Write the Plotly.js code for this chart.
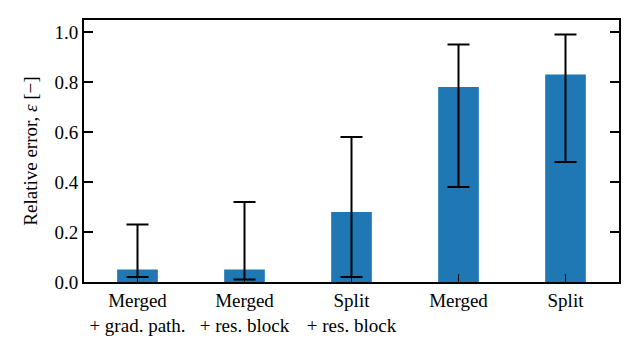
<!DOCTYPE html>
<html>
<head>
<meta charset="utf-8">
<script src="https://cdn.plot.ly/plotly-3.0.1.min.js"></script>
<style>
  html, body { margin: 0; padding: 0; background: #fff; }
  #chart { width: 639px; height: 352px; }
</style>
</head>
<body>
<div id="chart"></div>
<script>
// category labels (two-line ticks)
const categories = ['Merged<br>+ grad. path.', 'Merged<br>+ res. block', 'Split<br>+ res. block', 'Merged', 'Split'];
// mean relative error per model
const meanError = [0.05, 0.05, 0.28, 0.78, 0.83];
// range of errors (min / max) read from whiskers
const minError = [0.02, 0.01, 0.02, 0.38, 0.48];
const maxError = [0.23, 0.32, 0.58, 0.95, 0.99];

const xIdx = categories.map((c, i) => i);
const plus = meanError.map((m, i) => maxError[i] - m);
const minus = meanError.map((m, i) => m - minError[i]);

const serif = 'Liberation Serif, serif';

const trace = {
    type: 'bar',
    x: xIdx,
    y: meanError,
    width: 0.38,
    marker: { color: '#1f77b4' },
    error_y: {
        type: 'data',
        symmetric: false,
        array: plus,
        arrayminus: minus,
        color: '#000',
        thickness: 2,
        width: 11
    },
    hoverinfo: 'none'
};

const layout = {
    width: 639,
    height: 352,
    margin: { l: 84, r: 20, t: 20, b: 70 },
    paper_bgcolor: '#fff',
    plot_bgcolor: '#fff',
    showlegend: false,
    font: { family: serif, size: 19, color: '#000' },
    xaxis: {
        range: [-0.5, 4.5],
        tickmode: 'array',
        tickvals: xIdx,
        ticktext: categories,
        tickfont: { family: serif, size: 19 },
        ticks: 'inside',
        ticklen: 8,
        tickwidth: 1.5,
        tickcolor: '#000',
        showline: true,
        linecolor: '#000',
        linewidth: 2,
        mirror: true,
        showgrid: false,
        zeroline: false
    },
    yaxis: {
        range: [0, 1.048],
        tickvals: [0, 0.2, 0.4, 0.6, 0.8, 1.0],
        tickformat: '.1f',
        tickfont: { family: serif, size: 19 },
        ticks: 'inside',
        ticklen: 9,
        tickwidth: 1.5,
        tickcolor: '#000',
        showline: true,
        linecolor: '#000',
        linewidth: 2,
        mirror: 'ticks',
        showgrid: false,
        zeroline: false,
        title: { text: 'Relative error, <i>ε</i> [−]', standoff: 12, font: { family: serif, size: 19 } }
    }
};

Plotly.newPlot('chart', [trace], layout, { staticPlot: true });
</script>
</body>
</html>
